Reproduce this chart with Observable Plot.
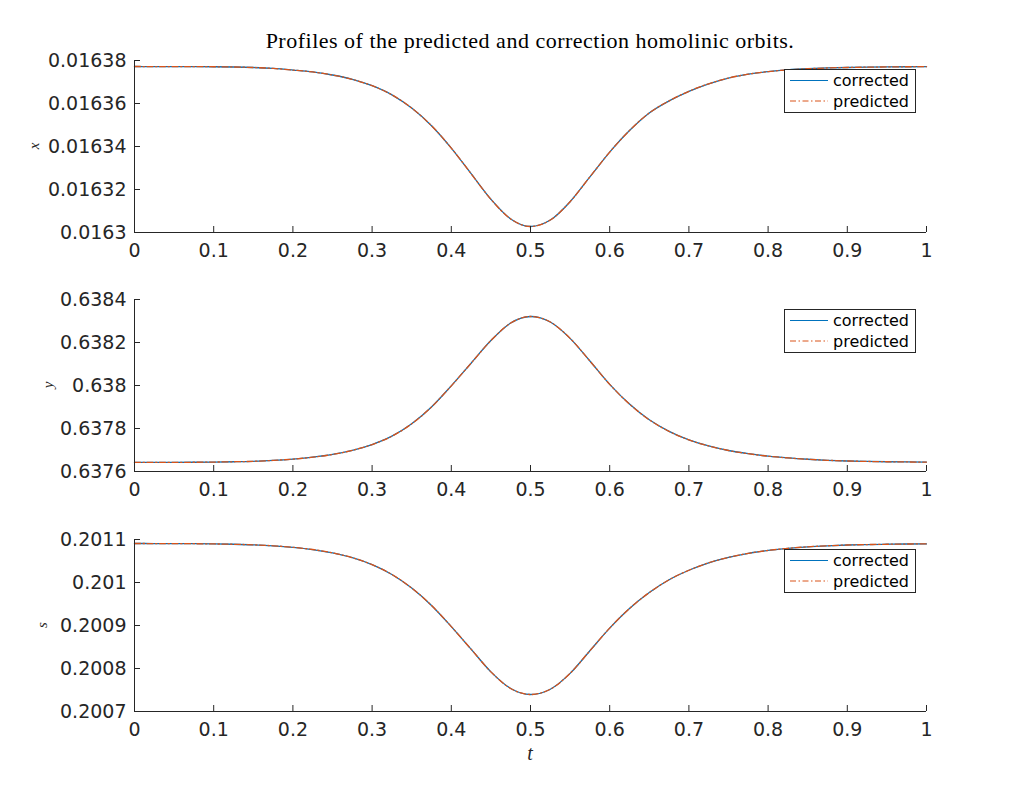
<!DOCTYPE html>
<html>
<head>
<meta charset="utf-8">
<script src="https://cdn.jsdelivr.net/npm/d3@7"></script>
<script src="https://cdn.jsdelivr.net/npm/@observablehq/plot@0.6"></script>
<style>
  body { margin: 0; background: #fff; }
  #fig { position: relative; width: 1024px; height: 800px; background: #fff; overflow: hidden; }
  .abs { position: absolute; }
  .title { font-family: "Liberation Serif", "DejaVu Serif", serif; font-size: 22px; letter-spacing: 0.5px; color: #000; white-space: nowrap; transform: translate(-50%, -50%); }
  .ylab { font-family: "Liberation Serif", "DejaVu Serif", serif; font-style: italic; font-size: 15px; color: #262626; transform: translate(-50%, -50%) rotate(-90deg); }
  .xlab { font-family: "Liberation Serif", "DejaVu Serif", serif; font-style: italic; font-size: 20px; color: #262626; transform: translate(-50%, -50%); }
</style>
</head>
<body>
<div id="fig"></div>
<script>
// ---- data ----
const tValues = [0, 0.025, 0.05, 0.075, 0.1, 0.125, 0.15, 0.175, 0.2, 0.225, 0.25, 0.275, 0.3, 0.325, 0.35, 0.375, 0.4, 0.425, 0.45, 0.475, 0.5,
  0.525, 0.55, 0.575, 0.6, 0.625, 0.65, 0.675, 0.7, 0.725, 0.75, 0.775, 0.8, 0.825, 0.85, 0.875, 0.9, 0.925, 0.95, 0.975, 1];

const xCorrected = [0.0163772, 0.01637719, 0.01637717, 0.01637714, 0.01637709, 0.01637698, 0.01637675, 0.01637631, 0.01637556, 0.01637467,
  0.01637326, 0.01637125, 0.01636827, 0.01636403, 0.01635786, 0.01634967, 0.01633926, 0.01632735, 0.01631545, 0.0163063, 0.0163028,
  0.01630578, 0.01631433, 0.01632587, 0.0163374, 0.01634744, 0.01635562, 0.0163612, 0.01636567, 0.01636917, 0.01637184,
  0.01637363, 0.01637482, 0.01637564, 0.01637616, 0.01637653, 0.01637675, 0.0163769, 0.01637701, 0.01637709, 0.01637713];
const xPredicted = [0.0163772, 0.01637719, 0.01637717, 0.01637714, 0.01637709, 0.01637698, 0.01637675, 0.01637631, 0.01637556, 0.01637467,
  0.01637326, 0.01637125, 0.01636827, 0.01636403, 0.01635786, 0.01634967, 0.01633926, 0.01632735, 0.01631545, 0.0163063, 0.0163028,
  0.01630578, 0.01631433, 0.01632587, 0.0163374, 0.01634744, 0.01635562, 0.0163612, 0.01636567, 0.01636917, 0.01637184,
  0.01637363, 0.01637482, 0.01637564, 0.01637616, 0.01637653, 0.01637675, 0.0163769, 0.01637701, 0.01637709, 0.01637713];

const yCorrected = [0.637642, 0.6376423, 0.6376425, 0.637643, 0.6376439, 0.6376453, 0.6376474, 0.6376515, 0.6376576, 0.6376664,
  0.6376793, 0.6376984, 0.6377255, 0.6377642, 0.6378219, 0.63790, 0.6379985, 0.6381037, 0.638209, 0.6382904, 0.638321,
  0.6382952, 0.6382192, 0.6381139, 0.6380053, 0.6379136, 0.6378403, 0.6377866, 0.6377472, 0.6377187, 0.6376977,
  0.6376827, 0.6376712, 0.637663, 0.6376569, 0.6376522, 0.6376488, 0.6376468, 0.6376454, 0.6376444, 0.6376437];
const yPredicted = [0.637642, 0.6376423, 0.6376425, 0.637643, 0.6376439, 0.6376453, 0.6376474, 0.6376515, 0.6376576, 0.6376664,
  0.6376793, 0.6376984, 0.6377255, 0.6377642, 0.6378219, 0.63790, 0.6379985, 0.6381037, 0.638209, 0.6382904, 0.638321,
  0.6382952, 0.6382192, 0.6381139, 0.6380053, 0.6379136, 0.6378403, 0.6377866, 0.6377472, 0.6377187, 0.6376977,
  0.6376827, 0.6376712, 0.637663, 0.6376569, 0.6376522, 0.6376488, 0.6376468, 0.6376454, 0.6376444, 0.6376437];

const sCorrected = [0.2010907, 0.2010906, 0.2010905, 0.2010902, 0.2010897, 0.2010889, 0.2010876, 0.2010854, 0.2010819, 0.2010767,
  0.2010689, 0.2010577, 0.2010415, 0.2010187, 0.2009871, 0.2009467, 0.2008975, 0.2008449, 0.2007922, 0.2007535, 0.2007395,
  0.2007518, 0.2007887, 0.2008413, 0.200894, 0.2009397, 0.2009766, 0.2010064, 0.2010285, 0.2010457, 0.2010584,
  0.2010679, 0.2010745, 0.2010795, 0.201083, 0.2010854, 0.2010872, 0.2010882, 0.2010889, 0.2010895, 0.2010898];
const sPredicted = [0.2010907, 0.2010906, 0.2010905, 0.2010902, 0.2010897, 0.2010889, 0.2010876, 0.2010854, 0.2010819, 0.2010767,
  0.2010689, 0.2010577, 0.2010415, 0.2010187, 0.2009871, 0.2009467, 0.2008975, 0.2008449, 0.2007922, 0.2007535, 0.2007395,
  0.2007518, 0.2007887, 0.2008413, 0.200894, 0.2009397, 0.2009766, 0.2010064, 0.2010285, 0.2010457, 0.2010584,
  0.2010679, 0.2010745, 0.2010795, 0.201083, 0.2010854, 0.2010872, 0.2010882, 0.2010889, 0.2010895, 0.2010898];

const tTicks = [0, 0.1, 0.2, 0.3, 0.4, 0.5, 0.6, 0.7, 0.8, 0.9, 1];
const xTicks = [0.0163, 0.01632, 0.01634, 0.01636, 0.01638];
const yTicks = [0.6376, 0.6378, 0.638, 0.6382, 0.6384];
const sTicks = [0.2007, 0.2008, 0.2009, 0.201, 0.2011];

const titleText = "Profiles of the predicted and correction homolinic orbits.";
const seriesNames = ["corrected", "predicted"];
const seriesColors = ["#0072BD", "#D95319"];
const panelLabels = ["x", "y", "s"];
const xAxisLabel = "t";

// ---- layout ----
const fig = document.getElementById("fig");
const FW = 1024, LEFT = 134, RIGHT = 926, PH = 172, MT = 10, MB = 40;
const INK = "#262626";
const DASH = "6,2.5,1.5,2.5";
const LW = 1.3;

function addDiv(cls, text, x, y) {
  const d = document.createElement("div");
  d.className = "abs " + cls;
  d.textContent = text;
  d.style.left = x + "px";
  d.style.top = y + "px";
  fig.appendChild(d);
  return d;
}

function panel(frameTop, corrected, predicted, ticks, label, labelX, legendTop) {
  const rows = tValues.map((t, i) => ({t, corrected: corrected[i], predicted: predicted[i]}));
  const dom = [ticks[0], ticks[ticks.length - 1]];
  const p = Plot.plot({
    width: FW, height: PH + MT + MB,
    marginLeft: LEFT, marginRight: FW - RIGHT, marginTop: MT, marginBottom: MB,
    style: {fontFamily: "DejaVu Sans", fontSize: "19px", color: INK, background: "transparent", overflow: "visible"},
    x: {domain: [0, 1]},
    y: {domain: dom},
    marks: [
      Plot.line(rows, {x: "t", y: "corrected", stroke: seriesColors[0], strokeWidth: LW, curve: "monotone-x"}),
      Plot.line(rows, {x: "t", y: "predicted", stroke: seriesColors[1], strokeWidth: LW, strokeDasharray: DASH, curve: "monotone-x"}),
      Plot.gridX(tTicks, {stroke: INK, strokeOpacity: 1, strokeWidth: 1, insetTop: PH - 6}),
      Plot.gridY(ticks, {stroke: INK, strokeOpacity: 1, strokeWidth: 1, insetRight: (RIGHT - LEFT) - 6}),
      Plot.ruleX([0], {stroke: INK}),
      Plot.ruleY([dom[0]], {stroke: INK}),
      Plot.axisX({ticks: tTicks, tickSize: 0, tickPadding: 11, tickFormat: d => String(d), label: null, fill: INK}),
      Plot.axisY({ticks: ticks, tickSize: 0, tickPadding: 8, tickFormat: d => String(d), label: null, fill: INK})
    ]
  });
  p.style.position = "absolute";
  p.style.left = "0px";
  p.style.top = (frameTop - MT) + "px";
  fig.appendChild(p);

  addDiv("ylab", label, labelX, frameTop + PH / 2);

  // legend box
  const lg = document.createElementNS("http://www.w3.org/2000/svg", "svg");
  lg.setAttribute("width", 132);
  lg.setAttribute("height", 44);
  lg.style.position = "absolute";
  lg.style.left = "784px";
  lg.style.top = legendTop + "px";
  let inner = `<rect x="0.5" y="0.5" width="131" height="43" fill="#fff" stroke="${INK}" stroke-width="1"/>`;
  const rowsY = [11.5, 32];
  seriesNames.forEach((n, i) => {
    inner += `<line x1="6" x2="44" y1="${rowsY[i]}" y2="${rowsY[i]}" stroke="${seriesColors[i]}" stroke-width="1" ${i ? `stroke-dasharray="${DASH}"` : ""}/>`;
    inner += `<text x="49" y="${rowsY[i]}" dy="0.35em" font-family="DejaVu Sans" font-size="16" fill="#000">${n}</text>`;
  });
  lg.innerHTML = inner;
  fig.appendChild(lg);
}

addDiv("title", titleText, 530, 41);
panel(60, xCorrected, xPredicted, xTicks, panelLabels[0], 34, 69);
panel(299, yCorrected, yPredicted, yTicks, panelLabels[1], 48, 309);
panel(539, sCorrected, sPredicted, sTicks, panelLabels[2], 42, 549);
addDiv("xlab", xAxisLabel, 530, 753);
</script>
</body>
</html>
